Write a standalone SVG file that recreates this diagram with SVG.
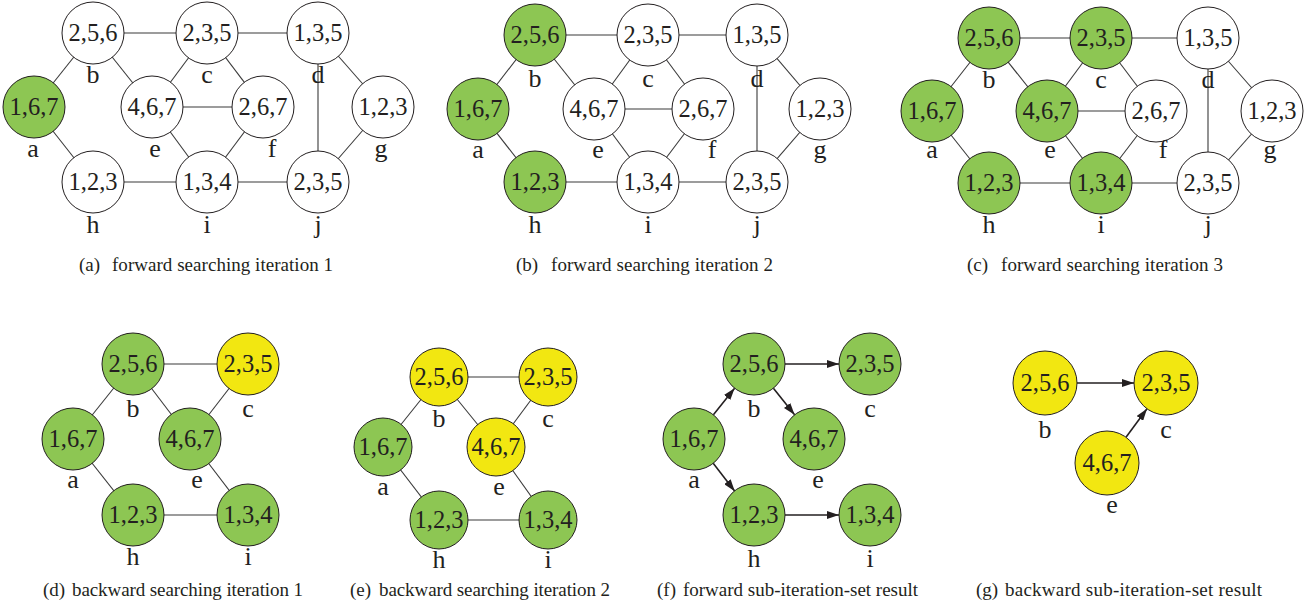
<svg xmlns="http://www.w3.org/2000/svg" width="1314" height="609" viewBox="0 0 1314 609">
  <style>
    .edge { stroke: #3a3a3a; stroke-width: 1.1; fill: none; }
    .arrow { stroke: #231f20; stroke-width: 1.6; fill: none; marker-end: url(#head); }
    circle { stroke: #231f20; stroke-width: 1; }
    .w { fill: #ffffff; }
    .g { fill: #8dc653; }
    .y { fill: #f2e711; }
    text { font-family: "Liberation Serif", "DejaVu Serif", serif; fill: #231f20; }
    .num { font-size: 24.5px; text-anchor: middle; }
    .lbl { font-size: 26px; text-anchor: middle; }
    .cap { font-size: 19px; }
  </style>
  <defs>
    <marker id="head" viewBox="0 0 12 8" refX="12" refY="4" markerWidth="12" markerHeight="8" markerUnits="userSpaceOnUse" orient="auto">
      <path d="M0,0 L12,4 L0,8 z" fill="#231f20"/>
    </marker>
  </defs>

  <rect width="1314" height="609" fill="#ffffff"/>

  <!-- (a) forward searching iteration 1 -->
  <g id="panel-a">
    <g id="a-connectors">
      <line class="edge" x1="34" y1="107" x2="93" y2="33"/>
      <line class="edge" x1="34" y1="107" x2="93" y2="182"/>
      <line class="edge" x1="93" y1="33" x2="207" y2="33"/>
      <line class="edge" x1="93" y1="33" x2="152" y2="107"/>
      <line class="edge" x1="207" y1="33" x2="318" y2="33"/>
      <line class="edge" x1="207" y1="33" x2="152" y2="107"/>
      <line class="edge" x1="207" y1="33" x2="263" y2="107"/>
      <line class="edge" x1="152" y1="107" x2="263" y2="107"/>
      <line class="edge" x1="152" y1="107" x2="207" y2="182"/>
      <line class="edge" x1="263" y1="107" x2="207" y2="182"/>
      <line class="edge" x1="93" y1="182" x2="207" y2="182"/>
      <line class="edge" x1="207" y1="182" x2="318" y2="182"/>
      <line class="edge" x1="318" y1="33" x2="318" y2="182"/>
      <line class="edge" x1="318" y1="33" x2="383" y2="107"/>
      <line class="edge" x1="383" y1="107" x2="318" y2="182"/>
    </g>
    <g id="a-node-a"><circle class="g" cx="34" cy="107" r="31"/><text class="num" x="34" y="115">1,6,7</text><text class="lbl" x="33" y="157">a</text></g>
    <g id="a-node-b"><circle class="w" cx="93" cy="33" r="31"/><text class="num" x="93" y="41">2,5,6</text><text class="lbl" x="93" y="83">b</text></g>
    <g id="a-node-c"><circle class="w" cx="207" cy="33" r="31"/><text class="num" x="207" y="41">2,3,5</text><text class="lbl" x="207" y="83">c</text></g>
    <g id="a-node-d"><circle class="w" cx="318" cy="33" r="31"/><text class="num" x="318" y="41">1,3,5</text><text class="lbl" x="318" y="83">d</text></g>
    <g id="a-node-e"><circle class="w" cx="152" cy="107" r="31"/><text class="num" x="152" y="115">4,6,7</text><text class="lbl" x="155" y="157">e</text></g>
    <g id="a-node-f"><circle class="w" cx="263" cy="107" r="31"/><text class="num" x="263" y="115">2,6,7</text><text class="lbl" x="272" y="157">f</text></g>
    <g id="a-node-g"><circle class="w" cx="383" cy="107" r="31"/><text class="num" x="383" y="115">1,2,3</text><text class="lbl" x="381" y="157">g</text></g>
    <g id="a-node-h"><circle class="w" cx="93" cy="182" r="31"/><text class="num" x="93" y="190">1,2,3</text><text class="lbl" x="93" y="233">h</text></g>
    <g id="a-node-i"><circle class="w" cx="207" cy="182" r="31"/><text class="num" x="207" y="190">1,3,4</text><text class="lbl" x="207" y="233">i</text></g>
    <g id="a-node-j"><circle class="w" cx="318" cy="182" r="31"/><text class="num" x="318" y="190">2,3,5</text><text class="lbl" x="318" y="233">j</text></g>
    <text class="cap" x="79" y="271">(a)</text>
    <text class="cap" x="112" y="271" textLength="221">forward searching iteration 1</text>
  </g>

  <!-- (b) forward searching iteration 2 -->
  <g id="panel-b">
    <g id="b-connectors">
      <line class="edge" x1="478" y1="109" x2="535" y2="35"/>
      <line class="edge" x1="478" y1="109" x2="535" y2="182"/>
      <line class="edge" x1="535" y1="35" x2="648" y2="35"/>
      <line class="edge" x1="535" y1="35" x2="594" y2="109"/>
      <line class="edge" x1="648" y1="35" x2="757" y2="35"/>
      <line class="edge" x1="648" y1="35" x2="594" y2="109"/>
      <line class="edge" x1="648" y1="35" x2="703" y2="109"/>
      <line class="edge" x1="594" y1="109" x2="703" y2="109"/>
      <line class="edge" x1="594" y1="109" x2="648" y2="182"/>
      <line class="edge" x1="703" y1="109" x2="648" y2="182"/>
      <line class="edge" x1="535" y1="182" x2="648" y2="182"/>
      <line class="edge" x1="648" y1="182" x2="757" y2="182"/>
      <line class="edge" x1="757" y1="35" x2="757" y2="182"/>
      <line class="edge" x1="757" y1="35" x2="820" y2="109"/>
      <line class="edge" x1="820" y1="109" x2="757" y2="182"/>
    </g>
    <g id="b-node-a"><circle class="g" cx="478" cy="109" r="31"/><text class="num" x="478" y="117">1,6,7</text><text class="lbl" x="478" y="158">a</text></g>
    <g id="b-node-b"><circle class="g" cx="535" cy="35" r="31"/><text class="num" x="535" y="43">2,5,6</text><text class="lbl" x="535" y="87">b</text></g>
    <g id="b-node-c"><circle class="w" cx="648" cy="35" r="31"/><text class="num" x="648" y="43">2,3,5</text><text class="lbl" x="648" y="87">c</text></g>
    <g id="b-node-d"><circle class="w" cx="757" cy="35" r="31"/><text class="num" x="757" y="43">1,3,5</text><text class="lbl" x="757" y="87">d</text></g>
    <g id="b-node-e"><circle class="w" cx="594" cy="109" r="31"/><text class="num" x="594" y="117">4,6,7</text><text class="lbl" x="598" y="158">e</text></g>
    <g id="b-node-f"><circle class="w" cx="703" cy="109" r="31"/><text class="num" x="703" y="117">2,6,7</text><text class="lbl" x="712" y="158">f</text></g>
    <g id="b-node-g"><circle class="w" cx="820" cy="109" r="31"/><text class="num" x="820" y="117">1,2,3</text><text class="lbl" x="820" y="158">g</text></g>
    <g id="b-node-h"><circle class="g" cx="535" cy="182" r="31"/><text class="num" x="535" y="190">1,2,3</text><text class="lbl" x="535" y="233">h</text></g>
    <g id="b-node-i"><circle class="w" cx="648" cy="182" r="31"/><text class="num" x="648" y="190">1,3,4</text><text class="lbl" x="648" y="233">i</text></g>
    <g id="b-node-j"><circle class="w" cx="757" cy="182" r="31"/><text class="num" x="757" y="190">2,3,5</text><text class="lbl" x="757" y="233">j</text></g>
    <text class="cap" x="516" y="271">(b)</text>
    <text class="cap" x="551" y="271" textLength="222">forward searching iteration 2</text>
  </g>

  <!-- (c) forward searching iteration 3 -->
  <g id="panel-c">
    <g id="c-connectors">
      <line class="edge" x1="932" y1="111" x2="989" y2="38"/>
      <line class="edge" x1="932" y1="111" x2="989" y2="183"/>
      <line class="edge" x1="989" y1="38" x2="1101" y2="38"/>
      <line class="edge" x1="989" y1="38" x2="1047" y2="111"/>
      <line class="edge" x1="1101" y1="38" x2="1208" y2="38"/>
      <line class="edge" x1="1101" y1="38" x2="1047" y2="111"/>
      <line class="edge" x1="1101" y1="38" x2="1156" y2="111"/>
      <line class="edge" x1="1047" y1="111" x2="1156" y2="111"/>
      <line class="edge" x1="1047" y1="111" x2="1101" y2="183"/>
      <line class="edge" x1="1156" y1="111" x2="1101" y2="183"/>
      <line class="edge" x1="989" y1="183" x2="1101" y2="183"/>
      <line class="edge" x1="1101" y1="183" x2="1208" y2="183"/>
      <line class="edge" x1="1208" y1="38" x2="1208" y2="183"/>
      <line class="edge" x1="1208" y1="38" x2="1272" y2="111"/>
      <line class="edge" x1="1272" y1="111" x2="1208" y2="183"/>
    </g>
    <g id="c-node-a"><circle class="g" cx="932" cy="111" r="31"/><text class="num" x="932" y="119">1,6,7</text><text class="lbl" x="932" y="158">a</text></g>
    <g id="c-node-b"><circle class="g" cx="989" cy="38" r="31"/><text class="num" x="989" y="46">2,5,6</text><text class="lbl" x="989" y="88">b</text></g>
    <g id="c-node-c"><circle class="g" cx="1101" cy="38" r="31"/><text class="num" x="1101" y="46">2,3,5</text><text class="lbl" x="1101" y="88">c</text></g>
    <g id="c-node-d"><circle class="w" cx="1208" cy="38" r="31"/><text class="num" x="1208" y="46">1,3,5</text><text class="lbl" x="1208" y="88">d</text></g>
    <g id="c-node-e"><circle class="g" cx="1047" cy="111" r="31"/><text class="num" x="1047" y="119">4,6,7</text><text class="lbl" x="1050" y="158">e</text></g>
    <g id="c-node-f"><circle class="w" cx="1156" cy="111" r="31"/><text class="num" x="1156" y="119">2,6,7</text><text class="lbl" x="1163" y="158">f</text></g>
    <g id="c-node-g"><circle class="w" cx="1272" cy="111" r="31"/><text class="num" x="1272" y="119">1,2,3</text><text class="lbl" x="1270" y="158">g</text></g>
    <g id="c-node-h"><circle class="g" cx="989" cy="183" r="31"/><text class="num" x="989" y="191">1,2,3</text><text class="lbl" x="989" y="233">h</text></g>
    <g id="c-node-i"><circle class="g" cx="1101" cy="183" r="31"/><text class="num" x="1101" y="191">1,3,4</text><text class="lbl" x="1101" y="233">i</text></g>
    <g id="c-node-j"><circle class="w" cx="1208" cy="183" r="31"/><text class="num" x="1208" y="191">2,3,5</text><text class="lbl" x="1208" y="233">j</text></g>
    <text class="cap" x="967" y="271">(c)</text>
    <text class="cap" x="1001" y="271" textLength="222">forward searching iteration 3</text>
  </g>

  <!-- (d) backward searching iteration 1 -->
  <g id="panel-d">
    <g id="d-connectors">
      <line class="edge" x1="73" y1="439" x2="133" y2="364"/>
      <line class="edge" x1="73" y1="439" x2="133" y2="515"/>
      <line class="edge" x1="133" y1="364" x2="248" y2="364"/>
      <line class="edge" x1="133" y1="364" x2="190" y2="439"/>
      <line class="edge" x1="248" y1="364" x2="190" y2="439"/>
      <line class="edge" x1="190" y1="439" x2="248" y2="515"/>
      <line class="edge" x1="133" y1="515" x2="248" y2="515"/>
    </g>
    <g id="d-node-a"><circle class="g" cx="73" cy="439" r="31"/><text class="num" x="73" y="447">1,6,7</text><text class="lbl" x="73" y="488">a</text></g>
    <g id="d-node-b"><circle class="g" cx="133" cy="364" r="31"/><text class="num" x="133" y="372">2,5,6</text><text class="lbl" x="133" y="417">b</text></g>
    <g id="d-node-c"><circle class="y" cx="248" cy="364" r="31"/><text class="num" x="248" y="372">2,3,5</text><text class="lbl" x="248" y="417">c</text></g>
    <g id="d-node-e"><circle class="g" cx="190" cy="439" r="31"/><text class="num" x="190" y="447">4,6,7</text><text class="lbl" x="197" y="488">e</text></g>
    <g id="d-node-h"><circle class="g" cx="133" cy="515" r="31"/><text class="num" x="133" y="523">1,2,3</text><text class="lbl" x="133" y="565">h</text></g>
    <g id="d-node-i"><circle class="g" cx="248" cy="515" r="31"/><text class="num" x="248" y="523">1,3,4</text><text class="lbl" x="248" y="565">i</text></g>
    <text class="cap" x="43" y="596">(d)</text>
    <text class="cap" x="72" y="596" textLength="231">backward searching iteration 1</text>
  </g>

  <!-- (e) backward searching iteration 2 -->
  <g id="panel-e">
    <g id="e-connectors">
      <line class="edge" x1="383" y1="447" x2="439" y2="377"/>
      <line class="edge" x1="383" y1="447" x2="439" y2="520"/>
      <line class="edge" x1="439" y1="377" x2="548" y2="377"/>
      <line class="edge" x1="439" y1="377" x2="496" y2="447"/>
      <line class="edge" x1="548" y1="377" x2="496" y2="447"/>
      <line class="edge" x1="496" y1="447" x2="548" y2="520"/>
      <line class="edge" x1="439" y1="520" x2="548" y2="520"/>
    </g>
    <g id="e-node-a"><circle class="g" cx="383" cy="447" r="29"/><text class="num" x="383" y="455">1,6,7</text><text class="lbl" x="383" y="495">a</text></g>
    <g id="e-node-b"><circle class="y" cx="439" cy="377" r="29"/><text class="num" x="439" y="385">2,5,6</text><text class="lbl" x="439" y="427">b</text></g>
    <g id="e-node-c"><circle class="y" cx="548" cy="377" r="29"/><text class="num" x="548" y="385">2,3,5</text><text class="lbl" x="548" y="427">c</text></g>
    <g id="e-node-e"><circle class="y" cx="496" cy="447" r="29"/><text class="num" x="496" y="455">4,6,7</text><text class="lbl" x="499" y="495">e</text></g>
    <g id="e-node-h"><circle class="g" cx="439" cy="520" r="29"/><text class="num" x="439" y="528">1,2,3</text><text class="lbl" x="439" y="568">h</text></g>
    <g id="e-node-i"><circle class="g" cx="548" cy="520" r="29"/><text class="num" x="548" y="528">1,3,4</text><text class="lbl" x="548" y="568">i</text></g>
    <text class="cap" x="350" y="596">(e)</text>
    <text class="cap" x="379" y="596" textLength="231">backward searching iteration 2</text>
  </g>

  <!-- (f) forward sub-iteration-set result -->
  <g id="panel-f">
    <g id="f-connectors">
      <line class="arrow" x1="713.4" y1="414.8" x2="734.6" y2="388.2"/>
      <line class="arrow" x1="713.2" y1="463.3" x2="734.8" y2="491.2"/>
      <line class="arrow" x1="785" y1="364" x2="839" y2="364"/>
      <line class="arrow" x1="773.4" y1="388.2" x2="794.6" y2="414.8"/>
      <line class="arrow" x1="785" y1="515" x2="839" y2="515"/>
    </g>
    <g id="f-node-a"><circle class="g" cx="694" cy="439" r="31"/><text class="num" x="694" y="447">1,6,7</text><text class="lbl" x="694" y="488">a</text></g>
    <g id="f-node-b"><circle class="g" cx="754" cy="364" r="31"/><text class="num" x="754" y="372">2,5,6</text><text class="lbl" x="754" y="417">b</text></g>
    <g id="f-node-c"><circle class="g" cx="870" cy="364" r="31"/><text class="num" x="870" y="372">2,3,5</text><text class="lbl" x="870" y="417">c</text></g>
    <g id="f-node-e"><circle class="g" cx="814" cy="439" r="31"/><text class="num" x="814" y="447">4,6,7</text><text class="lbl" x="818" y="488">e</text></g>
    <g id="f-node-h"><circle class="g" cx="754" cy="515" r="31"/><text class="num" x="754" y="523">1,2,3</text><text class="lbl" x="754" y="567">h</text></g>
    <g id="f-node-i"><circle class="g" cx="870" cy="515" r="31"/><text class="num" x="870" y="523">1,3,4</text><text class="lbl" x="870" y="567">i</text></g>
    <text class="cap" x="657" y="596">(f)</text>
    <text class="cap" x="683" y="596" textLength="235">forward sub-iteration-set result</text>
  </g>

  <!-- (g) backward sub-iteration-set result -->
  <g id="panel-g">
    <g id="g-connectors">
      <line class="arrow" x1="1077" y1="383" x2="1134" y2="383"/>
      <line class="arrow" x1="1126" y1="437.2" x2="1147" y2="408.8"/>
    </g>
    <g id="g-node-b"><circle class="y" cx="1045" cy="383" r="32"/><text class="num" x="1045" y="391">2,5,6</text><text class="lbl" x="1045" y="438">b</text></g>
    <g id="g-node-c"><circle class="y" cx="1166" cy="383" r="32"/><text class="num" x="1166" y="391">2,3,5</text><text class="lbl" x="1166" y="438">c</text></g>
    <g id="g-node-e"><circle class="y" cx="1107" cy="463" r="32"/><text class="num" x="1107" y="471">4,6,7</text><text class="lbl" x="1112" y="513">e</text></g>
    <text class="cap" x="976" y="596">(g)</text>
    <text class="cap" x="1005" y="596" textLength="257">backward sub-iteration-set result</text>
  </g>
</svg>
